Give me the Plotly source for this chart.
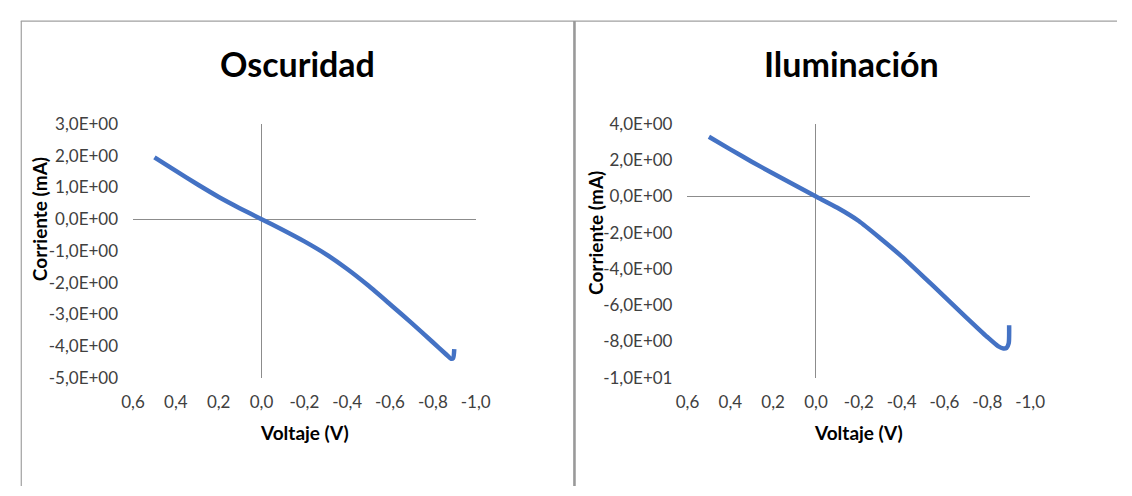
import plotly.graph_objects as go

# ---------------- data ----------------
volt_osc = [0.50, 0.40, 0.30, 0.20, 0.10, 0.0, -0.10, -0.20, -0.30, -0.40, -0.50,
            -0.60, -0.70, -0.80, -0.86, -0.885, -0.895, -0.90]
curr_osc = [1.95, 1.52, 1.10, 0.70, 0.34, 0.0, -0.34, -0.70, -1.10, -1.57, -2.10,
            -2.68, -3.27, -3.88, -4.25, -4.40, -4.38, -4.10]

volt_ilu = [0.50, 0.40, 0.30, 0.20, 0.10, 0.0, -0.10, -0.20, -0.30, -0.40, -0.50,
            -0.60, -0.70, -0.80, -0.85, -0.875, -0.89, -0.90, -0.902]
curr_ilu = [3.30, 2.60, 1.92, 1.27, 0.63, 0.0, -0.62, -1.35, -2.30, -3.30, -4.40,
            -5.52, -6.65, -7.75, -8.25, -8.38, -8.35, -8.10, -7.10]

x_tickvals = [0.6, 0.4, 0.2, 0.0, -0.2, -0.4, -0.6, -0.8, -1.0]
x_ticktext = ["0,6", "0,4", "0,2", "0,0", "-0,2", "-0,4", "-0,6", "-0,8", "-1,0"]

y_osc_tickvals = [3, 2, 1, 0, -1, -2, -3, -4, -5]
y_osc_ticktext = ["3,0E+00", "2,0E+00", "1,0E+00", "0,0E+00", "-1,0E+00",
                  "-2,0E+00", "-3,0E+00", "-4,0E+00", "-5,0E+00"]

y_ilu_tickvals = [4, 2, 0, -2, -4, -6, -8, -10]
y_ilu_ticktext = ["4,0E+00", "2,0E+00", "0,0E+00", "-2,0E+00", "-4,0E+00",
                  "-6,0E+00", "-8,0E+00", "-1,0E+01"]

titles = ["Oscuridad", "Iluminación"]
x_title = "Voltaje (V)"
y_title = "Corriente (mA)"

# ---------------- layout helpers ----------------
W, H = 1132, 496
def px(x):
    return x / W
def py(y):
    return 1 - y / H

LINE_COLOR = "#4472C4"
AXIS_COLOR = "#8c8c8c"
FONT = "Lato"
TICK_FONT = dict(family=FONT, size=17, color="#404040")

fig = go.Figure()
fig.add_trace(go.Scatter(x=volt_osc, y=curr_osc, mode="lines",
                         line=dict(color=LINE_COLOR, width=4.5, shape="spline", smoothing=0.6),
                         xaxis="x", yaxis="y", showlegend=False))
fig.add_trace(go.Scatter(x=volt_ilu, y=curr_ilu, mode="lines",
                         line=dict(color=LINE_COLOR, width=4.5, shape="spline", smoothing=0.6),
                         xaxis="x2", yaxis="y2", showlegend=False))

def xaxis(domain, anchor):
    return dict(domain=domain, anchor=anchor, range=[0.6, -1.0],
                tickvals=x_tickvals, ticktext=x_ticktext, tickfont=TICK_FONT,
                showgrid=False, showline=False, ticks="", zeroline=True,
                zerolinecolor=AXIS_COLOR, zerolinewidth=1, ticklabelstandoff=12,
                fixedrange=True)

def yaxis(domain, anchor, rng, tv, tt):
    return dict(domain=domain, anchor=anchor, range=rng,
                tickvals=tv, ticktext=tt, tickfont=TICK_FONT,
                showgrid=False, showline=False, ticks="", zeroline=True,
                zerolinecolor=AXIS_COLOR, zerolinewidth=1, ticklabelstandoff=14,
                fixedrange=True)

ydom = [py(383), py(118)]
fig.update_layout(
    width=W, height=H,
    margin=dict(l=0, r=0, t=0, b=0),
    paper_bgcolor="white", plot_bgcolor="white",
    xaxis=xaxis([px(124), px(475)], "y"),
    yaxis=yaxis(ydom, "x", [-5, 3], y_osc_tickvals, y_osc_ticktext),
    xaxis2=xaxis([px(692), px(1043)], "y2"),
    yaxis2=yaxis(ydom, "x2", [-10, 4], y_ilu_tickvals, y_ilu_ticktext),
)

ann = []
for cx, t in [(292.5, titles[0]), (860, titles[1])]:
    ann.append(dict(x=px(cx), y=py(55), xref="paper", yref="paper", text="<b>%s</b>" % t,
                    showarrow=False, xanchor="center", yanchor="middle",
                    font=dict(family=FONT, size=34, color="#000000")))
for cx in [299.5, 867.5]:
    ann.append(dict(x=px(cx), y=py(440), xref="paper", yref="paper", text="<b>%s</b>" % x_title,
                    showarrow=False, xanchor="center", yanchor="middle",
                    font=dict(family=FONT, size=19, color="#000000")))
for cx, cy in [(28, 217), (597, 232)]:
    ann.append(dict(x=px(cx), y=py(cy), xref="paper", yref="paper", text="<b>%s</b>" % y_title,
                    showarrow=False, xanchor="center", yanchor="middle", textangle=-90,
                    font=dict(family=FONT, size=19, color="#000000")))
fig.update_layout(annotations=ann)

BORDER = "#a0a0a0"
shapes = [
    dict(type="line", xref="paper", yref="paper", x0=px(9), x1=1, y0=py(10.5), y1=py(10.5),
         line=dict(color=BORDER, width=1.2)),
    dict(type="line", xref="paper", yref="paper", x0=px(9.5), x1=px(9.5), y0=py(10.5), y1=0,
         line=dict(color=BORDER, width=1.2)),
    dict(type="line", xref="paper", yref="paper", x0=px(576.2), x1=px(576.2), y0=py(10.5), y1=0,
         line=dict(color="#999999", width=2.6)),
]
fig.update_layout(shapes=shapes)

fig.write_html("out.html", config={"displayModeBar": False},
               post_script="document.body.style.margin='0';")
